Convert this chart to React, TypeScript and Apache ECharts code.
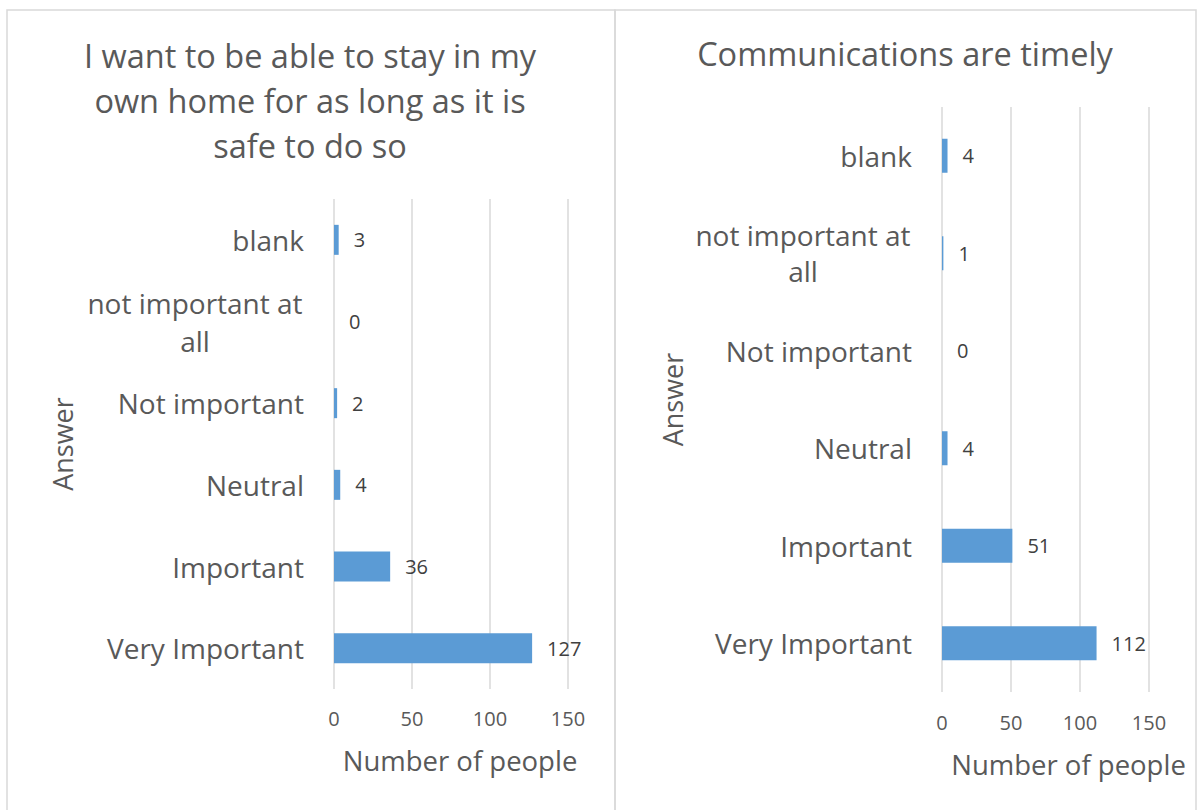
import React, { useEffect, useRef } from "react";
import * as echarts from "echarts";

const categories = ["blank", "not important at all", "Not important", "Neutral", "Important", "Very Important"];
const stayHomeValues = [3, 0, 2, 4, 36, 127];
const timelyValues = [4, 1, 0, 4, 51, 112];
const xTicks = [0, 50, 100, 150];

const titleLeft = "I want to be able to stay in my\nown home for as long as it is\nsafe to do so";
const titleRight = "Communications are timely";

const FONT = "'Open Sans', 'Noto Sans', sans-serif";
const GREY = "#595959";
const GRID = "#d9d9d9";
const BAR = "#5b9bd5";

function wrapCat(v: string) {
  return v === "not important at all" ? "{c|not important at}\n{c|all}" : v;
}

export default function App() {
  const ref = useRef<HTMLDivElement>(null);
  useEffect(() => {
    if (!ref.current) return;
    const chart = echarts.init(ref.current, null, { renderer: "svg" });
    const xAxisBase = (gridIndex: number, nameGap: number, margin: number, shift: number) => ({
      type: "value" as const,
      gridIndex,
      min: xTicks[0],
      max: xTicks[xTicks.length - 1],
      interval: 50,
      name: "Number of people",
      nameLocation: "middle" as const,
      nameGap,
      nameTextStyle: { fontFamily: FONT, fontSize: 27.5, color: GREY, padding: [0, 0, 0, shift] },
      axisLine: { show: false },
      axisTick: { show: false },
      axisLabel: { fontFamily: FONT, fontSize: 20, color: GREY, margin },
      splitLine: { show: true, lineStyle: { color: GRID, width: 1.5 } },
    });
    const yAxisBase = (gridIndex: number, nameGap: number, lh: number) => ({
      type: "category" as const,
      gridIndex,
      data: categories,
      inverse: true,
      name: "Answer",
      nameLocation: "middle" as const,
      nameGap,
      nameRotate: 90,
      nameTextStyle: { fontFamily: FONT, fontSize: 27, color: GREY },
      axisLine: { show: false },
      axisTick: { show: false },
      axisLabel: {
        fontFamily: FONT,
        fontSize: 28,
        color: GREY,
        margin: 30,
        lineHeight: lh,
        align: "right" as const,
        formatter: wrapCat,
        rich: {
          c: { fontFamily: FONT, fontSize: 28, color: GREY, width: 218, align: "center" as const, lineHeight: lh },
        },
      },
      splitLine: { show: false },
    });
    const label = {
      show: true,
      position: "right" as const,
      distance: 15,
      fontFamily: FONT,
      fontSize: 20,
      color: "#404040",
    };
    chart.setOption({
      animation: false,
      backgroundColor: "#ffffff",
      textStyle: { fontFamily: FONT },
      graphic: [
        { type: "rect", shape: { x: 7, y: 10, width: 608, height: 820 }, style: { fill: "none", stroke: GRID, lineWidth: 1.5 }, silent: true },
        { type: "rect", shape: { x: 615, y: 10, width: 581, height: 820 }, style: { fill: "none", stroke: GRID, lineWidth: 1.5 }, silent: true },
        {
          type: "text",
          x: 310,
          y: 100,
          style: { text: titleLeft, font: `32.5px ${FONT}`, fill: GREY, textAlign: "center", textVerticalAlign: "middle", lineHeight: 45 },
        },
        {
          type: "text",
          x: 905,
          y: 53,
          style: { text: titleRight, font: `32.5px ${FONT}`, fill: GREY, textAlign: "center", textVerticalAlign: "middle" },
        },
      ],
      grid: [
        { left: 334, right: 1197 - 568, top: 199, bottom: 810 - 689 },
        { left: 942, right: 1197 - 1149, top: 107, bottom: 810 - 692 },
      ],
      xAxis: [xAxisBase(0, 57, 19, 18), xAxisBase(1, 58, 20, 46)],
      yAxis: [yAxisBase(0, 258, 38), yAxisBase(1, 256, 36)],
      series: [
        { type: "bar", xAxisIndex: 0, yAxisIndex: 0, data: stayHomeValues, barWidth: 30, itemStyle: { color: BAR }, label },
        { type: "bar", xAxisIndex: 1, yAxisIndex: 1, data: timelyValues, barWidth: 34, itemStyle: { color: BAR }, label },
      ],
    });
    return () => chart.dispose();
  }, []);
  return <div ref={ref} style={{ position: "fixed", left: 0, top: 0, width: 1197, height: 810 }} />;
}
